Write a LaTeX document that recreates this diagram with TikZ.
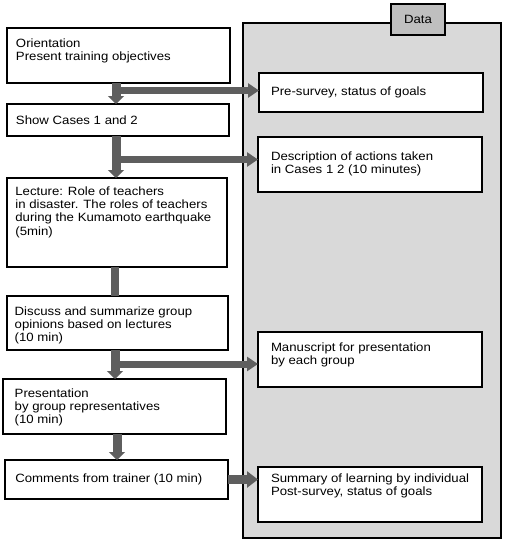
\documentclass[tikz,border=0pt]{standalone}
\usepackage{fontspec}
\setmainfont{Liberation Sans}[FakeStretch=1.1]
\usetikzlibrary{arrows.meta}
\definecolor{panelgray}{HTML}{D9D9D9}
\definecolor{tabgray}{HTML}{BFBFBF}
\definecolor{arrowgray}{HTML}{5E5E5E}
\newcommand\fs{\fontsize{12}{13.3}\selectfont}
% width, height, inner pos, left skip, top pad, text
\newcommand\bxt[6]{\parbox[c][#2][#3]{#1}{\raggedright\leftskip=#4\relax\vspace*{#5}#6}}
\begin{document}
\begin{tikzpicture}[x=1pt,y=-1pt,
  lbox/.style={draw, line width=1.1pt, fill=white, inner sep=0pt, outer sep=0pt, anchor=north west, font=\fs},
  rbox/.style={draw, line width=1.9pt, fill=white, inner sep=0pt, outer sep=0pt, anchor=north west, font=\fs},
  panel/.style={draw, line width=1.1pt, fill=panelgray, inner sep=0pt, outer sep=0pt, anchor=north west},
  tab/.style={draw, line width=2pt, fill=tabgray, inner sep=0pt, outer sep=0pt, font=\fs},
  vflow/.style={line width=9pt, draw=arrowgray, -{Triangle[width=16pt,length=8pt]}},
  vbar/.style={line width=8pt, draw=arrowgray},
  hflow/.style={line width=7pt, draw=arrowgray, -{Triangle[width=14pt,length=11pt]}},
  hflowb/.style={line width=8.5pt, draw=arrowgray, -{Triangle[width=16pt,length=11pt]}}
]
\useasboundingbox (0,0) rectangle (511,550);

% data panel
\node[panel, minimum width=258pt, minimum height=515pt] (panel) at (243,23) {};
\node[tab, minimum width=54pt, minimum height=31pt] (tab) at (418,19.5) {Data};

% left column
\node[lbox] (ori) at (7,28) {\bxt{223pt}{55pt}{t}{9pt}{10.7pt}{Orientation\\Present training objectives}};
\node[lbox] (show) at (7,104) {\bxt{222pt}{32pt}{c}{9pt}{0pt}{Show Cases 1 and 2}};
\node[lbox] (lect) at (7,178) {\bxt{220pt}{89pt}{t}{8.4pt}{8.4pt}{Lecture: Role of teachers\\in disaster. The roles of teachers\\during the Kumamoto earthquake\\(5min)}};
\node[lbox] (disc) at (7,296) {\bxt{221pt}{54pt}{t}{7.7pt}{10.4pt}{Discuss and summarize group\\opinions based on lectures\\(10 min)}};
\node[lbox] (pres) at (3,379) {\bxt{223pt}{55pt}{t}{11.7pt}{9.4pt}{Presentation\\by group representatives\\(10 min)}};
\node[lbox] (comm) at (5,460) {\bxt{223pt}{39pt}{c}{10.3pt}{0pt}{Comments from trainer (10 min)}};

% right column
\node[rbox] (pre) at (259,73) {\bxt{224pt}{39pt}{c}{12pt}{0pt}{Pre-survey, status of goals}};
\node[rbox] (desc) at (258,137) {\bxt{224pt}{55pt}{t}{13pt}{14.4pt}{Description of actions taken\\in Cases 1 2 (10 minutes)}};
\node[rbox] (manu) at (258,332) {\bxt{224pt}{55pt}{t}{13pt}{10.4pt}{Manuscript for presentation\\by each group}};
\node[rbox] (summ) at (258,467) {\bxt{224pt}{55pt}{t}{13pt}{6.4pt}{Summary of learning by individual\\Post-survey, status of goals}};

% spine coordinates
\coordinate (s1) at (116,90.5);
\coordinate (s2) at (116,159.5);
\coordinate (s3) at (114.5,0);
\coordinate (s4) at (115,364);
\coordinate (s5) at (117,0);

% connectors
\draw[vflow] (ori.south -| s1) -- (show.north -| s1);
\draw[hflow] (s1) -- (s1 -| pre.west);
\draw[vflow] (show.south -| s2) -- (lect.north -| s2);
\draw[hflow] (s2) -- (s2 -| desc.west);
\draw[vbar] (lect.south -| s3) -- (disc.north -| s3);
\draw[vflow] (disc.south -| s4) -- (pres.north -| s4);
\draw[hflow] (s4) -- (s4 -| manu.west);
\draw[vflow] (pres.south -| s5) -- (comm.north -| s5);
\draw[hflowb] (comm.east) -- (comm.east -| summ.west);
\end{tikzpicture}
\end{document}
